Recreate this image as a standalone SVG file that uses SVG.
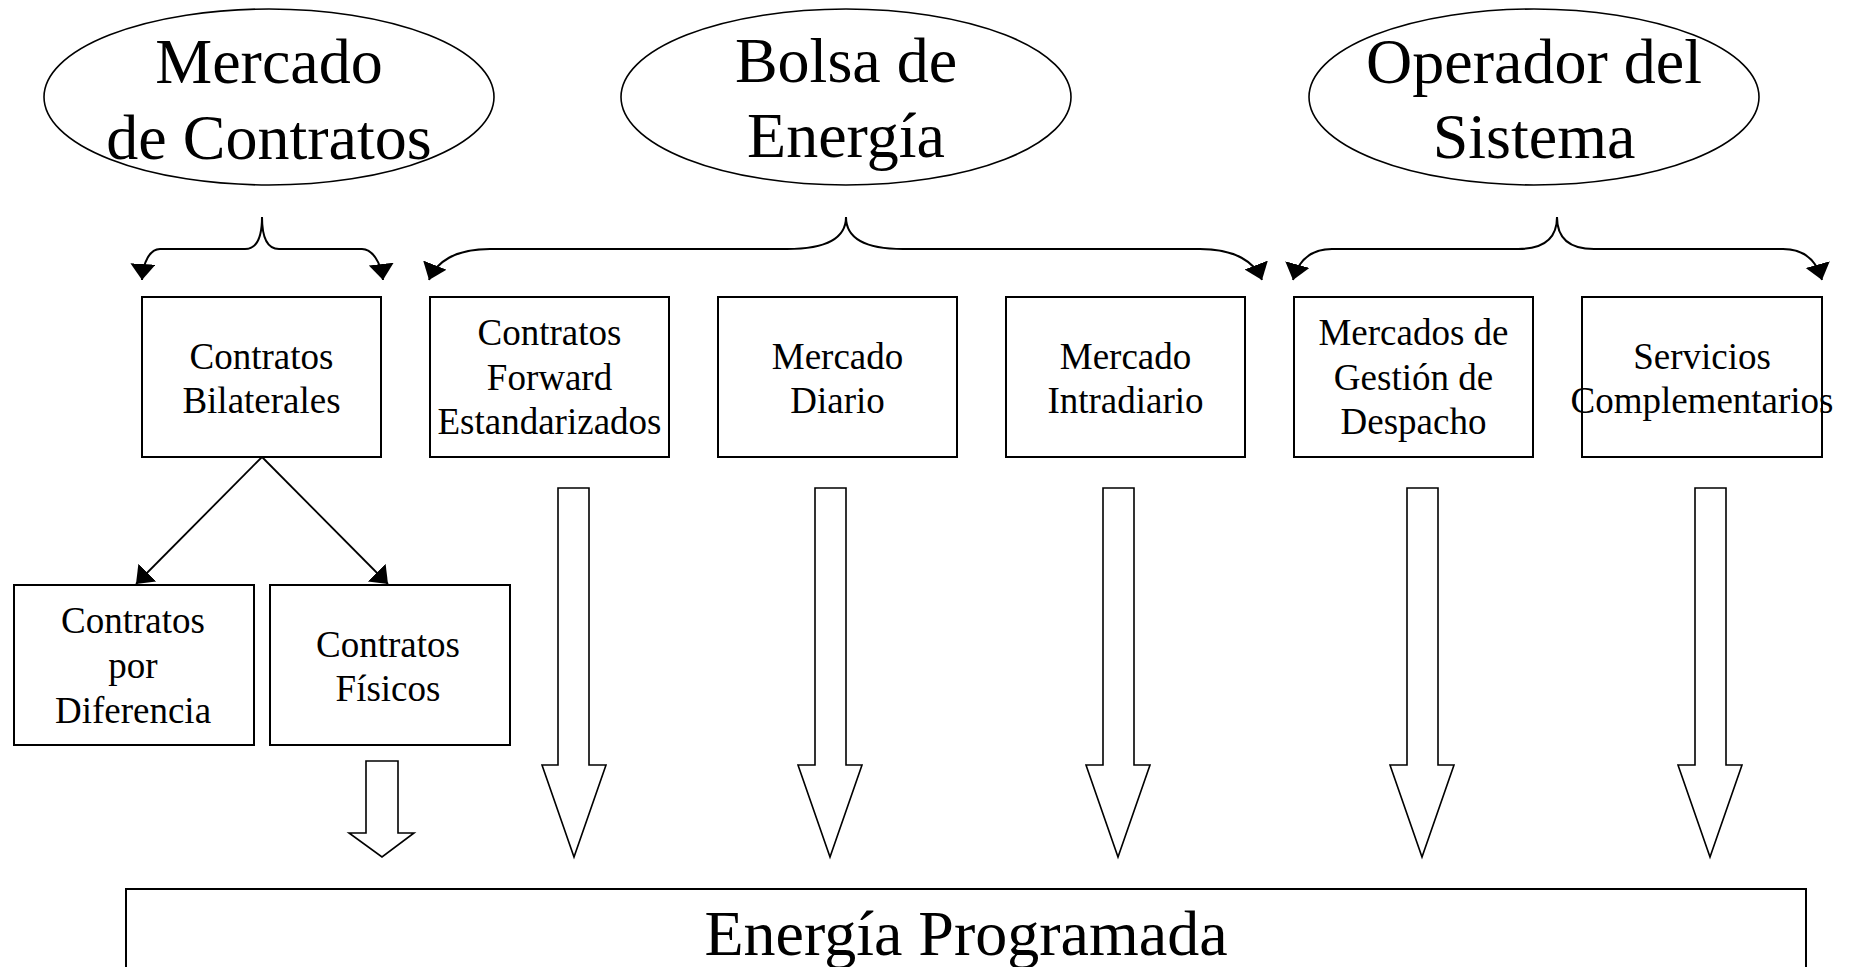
<svg xmlns="http://www.w3.org/2000/svg" width="1851" height="967" viewBox="0 0 1851 967">
<style>
  .bg { fill: #ffffff; }
  .ell { fill: #ffffff; stroke: #000; stroke-width: 1.6; }
  .box { fill: #ffffff; stroke: #000; stroke-width: 2; }
  .big { font-family: "Liberation Serif", "Times New Roman", serif; font-size: 64px; fill: #000; text-anchor: middle; }
  .lbl { font-family: "Liberation Serif", "Times New Roman", serif; font-size: 37px; fill: #000; text-anchor: middle; }
  .brace { fill: none; stroke: #000; stroke-width: 2; }
  .line { fill: none; stroke: #000; stroke-width: 1.8; }
  .block { fill: #ffffff; stroke: #000; stroke-width: 1.6; stroke-linejoin: miter; }
</style>
<defs>
  <marker id="ah" markerUnits="userSpaceOnUse" markerWidth="18" markerHeight="26" refX="16" refY="12.5" orient="auto">
    <path d="M0,0 L16,12.5 L0,25 Z" fill="#000"/>
  </marker>
</defs>
<rect class="bg" x="0" y="0" width="1851" height="967"/>

<g id="node-mercado-contratos">
  <ellipse class="ell" cx="269" cy="97" rx="225" ry="88"/>
  <text class="big" x="269" y="83">Mercado</text>
  <text class="big" x="269" y="159">de Contratos</text>
</g>
<g id="node-bolsa-energia">
  <ellipse class="ell" cx="846" cy="97" rx="225" ry="88"/>
  <text class="big" x="846" y="82">Bolsa de</text>
  <text class="big" x="846" y="157">Energía</text>
</g>
<g id="node-operador-sistema">
  <ellipse class="ell" cx="1534" cy="97" rx="225" ry="88"/>
  <text class="big" x="1534" y="83">Operador del</text>
  <text class="big" x="1534" y="158">Sistema</text>
</g>

<g id="node-contratos-bilaterales">
  <rect class="box" x="142" y="297" width="239" height="160"/>
  <text class="lbl" x="261.5" y="369">Contratos</text>
  <text class="lbl" x="261.5" y="413">Bilaterales</text>
</g>
<g id="node-contratos-forward">
  <rect class="box" x="430" y="297" width="239" height="160"/>
  <text class="lbl" x="549.5" y="345">Contratos</text>
  <text class="lbl" x="549.5" y="390">Forward</text>
  <text class="lbl" x="549.5" y="434">Estandarizados</text>
</g>
<g id="node-mercado-diario">
  <rect class="box" x="718" y="297" width="239" height="160"/>
  <text class="lbl" x="837.5" y="369">Mercado</text>
  <text class="lbl" x="837.5" y="413">Diario</text>
</g>
<g id="node-mercado-intradiario">
  <rect class="box" x="1006" y="297" width="239" height="160"/>
  <text class="lbl" x="1125.5" y="369">Mercado</text>
  <text class="lbl" x="1125.5" y="413">Intradiario</text>
</g>
<g id="node-mercados-gestion">
  <rect class="box" x="1294" y="297" width="239" height="160"/>
  <text class="lbl" x="1413.5" y="345">Mercados de</text>
  <text class="lbl" x="1413.5" y="390">Gestión de</text>
  <text class="lbl" x="1413.5" y="434">Despacho</text>
</g>
<g id="node-servicios-complementarios">
  <rect class="box" x="1582" y="297" width="240" height="160"/>
  <text class="lbl" x="1702" y="369">Servicios</text>
  <text class="lbl" x="1702" y="413">Complementarios</text>
</g>

<g id="node-contratos-diferencia">
  <rect class="box" x="14" y="585" width="240" height="160"/>
  <text class="lbl" x="133" y="633">Contratos</text>
  <text class="lbl" x="133" y="678">por</text>
  <text class="lbl" x="133" y="723">Diferencia</text>
</g>
<g id="node-contratos-fisicos">
  <rect class="box" x="270" y="585" width="240" height="160"/>
  <text class="lbl" x="388" y="657">Contratos</text>
  <text class="lbl" x="388" y="701">Físicos</text>
</g>

<g id="node-energia-programada">
  <rect class="box" x="126" y="889" width="1680" height="120"/>
  <text class="big" x="966" y="955">Energía Programada</text>
</g>

<g id="connectors">
  <!-- Mercado de Contratos brace -->
  <path class="brace" d="M262,217 C262,240 256,249 245,249 L160,249 C150,249 143,262 142,280" marker-end="url(#ah)"/>
  <path class="brace" d="M262,217 C262,240 268,249 279,249 L362,249 C372,249 381,262 383,280" marker-end="url(#ah)"/>
  <!-- Bolsa de Energía brace -->
  <path class="brace" d="M846,217 C846,238 828,249 787,249 L490,249 C455,249 436,262 429,280" marker-end="url(#ah)"/>
  <path class="brace" d="M846,217 C846,238 864,249 903,249 L1200,249 C1235,249 1255,262 1262,280" marker-end="url(#ah)"/>
  <!-- Operador del Sistema brace -->
  <path class="brace" d="M1557,217 C1557,238 1545,249 1518,249 L1332,249 C1310,249 1298,262 1293,280" marker-end="url(#ah)"/>
  <path class="brace" d="M1557,217 C1557,238 1569,249 1594,249 L1783,249 C1805,249 1817,262 1822,280" marker-end="url(#ah)"/>
  <!-- Bilaterales split -->
  <path class="line" d="M262,457 L136,584" marker-end="url(#ah)"/>
  <path class="line" d="M262,457 L388,584" marker-end="url(#ah)"/>
  <!-- block arrows -->
  <polygon class="block" points="366,761 398,761 398,833 414,833 382,857 349,833 366,833"/>
  <polygon class="block" points="558,488 589,488 589,765 606,765 574,857 542,765 558,765"/>
  <polygon class="block" points="815,488 846,488 846,765 862,765 830,857 798,765 815,765"/>
  <polygon class="block" points="1103,488 1134,488 1134,765 1150,765 1118,857 1086,765 1103,765"/>
  <polygon class="block" points="1407,488 1438,488 1438,765 1454,765 1422,857 1390,765 1407,765"/>
  <polygon class="block" points="1695,488 1726,488 1726,765 1742,765 1710,857 1678,765 1695,765"/>
</g>
</svg>
